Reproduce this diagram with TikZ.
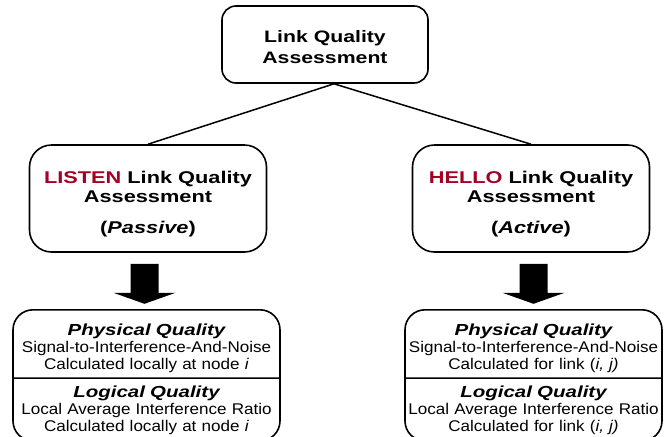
\documentclass[tikz,border=0pt]{standalone}
\usepackage{fontspec}
\setmainfont{Liberation Sans}[FakeStretch=1.1]
\newfontfamily\headfont{Liberation Sans}[FakeStretch=1.28]
\usetikzlibrary{shapes.multipart,calc}
\definecolor{listenred}{RGB}{165,0,35}

\begin{document}
\begin{tikzpicture}[x=1pt,y=-1pt,
    topbox/.style={draw, line width=1.6pt, rounded corners=14pt,
        minimum width=206pt, minimum height=77pt, align=center,
        font=\headfont\bfseries\fontsize{16.6}{20.5}\selectfont},
    modebox/.style={draw, line width=1.6pt, rounded corners=22pt,
        minimum width=237pt, minimum height=107pt, align=center,
        font=\headfont\bfseries\fontsize{17}{19.5}\selectfont},
    qualbox/.style={draw, line width=1.6pt, rounded corners=20pt,
        rectangle split, rectangle split parts=2, anchor=north,
        inner xsep=3pt, inner ysep=5pt, align=center,
        font=\fontsize{15.5}{17}\selectfont},
    link/.style={line width=1.5pt}]
    \useasboundingbox (0,0) rectangle (665,437);

    \node[topbox] (lqa) at (325,44.5)
            {\rule{0pt}{17pt}Link Quality\\ Assessment};
    \node[modebox] (listen) at (148,198.5)
            {\rule{0pt}{24pt}\textcolor{listenred}{LISTEN} Link Quality\\
             Assessment\\[11.5pt] (\textit{Passive})};
    \node[modebox] (hello) at (531,198.5)
            {\rule{0pt}{24pt}\textcolor{listenred}{HELLO} Link Quality\\
             Assessment\\[11.5pt] (\textit{Active})};
    \node[qualbox, text width=261pt] (lqL) at (146.5,309)
            {\rule{0pt}{19.5pt}{\headfont\fontsize{16}{17}\selectfont\bfseries\itshape Physical Quality}\\
             Signal-to-Interference-And-Noise\\
             Calculated locally at node \textit{i}
             \nodepart{two}
             \rule{0pt}{14pt}{\headfont\fontsize{16}{17}\selectfont\bfseries\itshape Logical Quality}\\
             Local Average Interference Ratio\\
             Calculated locally at node \textit{i}};
    \node[qualbox, text width=251pt] (lqR) at (533.5,309)
            {\rule{0pt}{19.5pt}{\headfont\fontsize{16}{17}\selectfont\bfseries\itshape Physical Quality}\\
             Signal-to-Interference-And-Noise\\
             Calculated for link (\textit{i, j)}
             \nodepart{two}
             \rule{0pt}{14pt}{\headfont\fontsize{16}{17}\selectfont\bfseries\itshape Logical Quality}\\
             Local Average Interference Ratio\\
             Calculated for link (\textit{i, j)}};

    % tree lines
    \coordinate (apex) at ($(lqa.south)+(9,0)$);
    \draw[link] (apex) -- (listen.north);
    \draw[link] (apex) -- (hello.north);

    % block arrows
    \coordinate (arrL) at (listen.south -| lqL.north);
    \coordinate (arrR) at (hello.south -| lqR.north);
    \fill (arrL) ++(-16,11) -- ++(28,0) -- ++(0,29) -- ++(17,0)
        -- ++(-31,11) -- ++(-31,-11) -- ++(17,0) -- cycle;
    \fill (arrR) ++(-14,11) -- ++(28,0) -- ++(0,29) -- ++(17,0)
        -- ++(-31,11) -- ++(-31,-11) -- ++(17,0) -- cycle;
\end{tikzpicture}
\end{document}
